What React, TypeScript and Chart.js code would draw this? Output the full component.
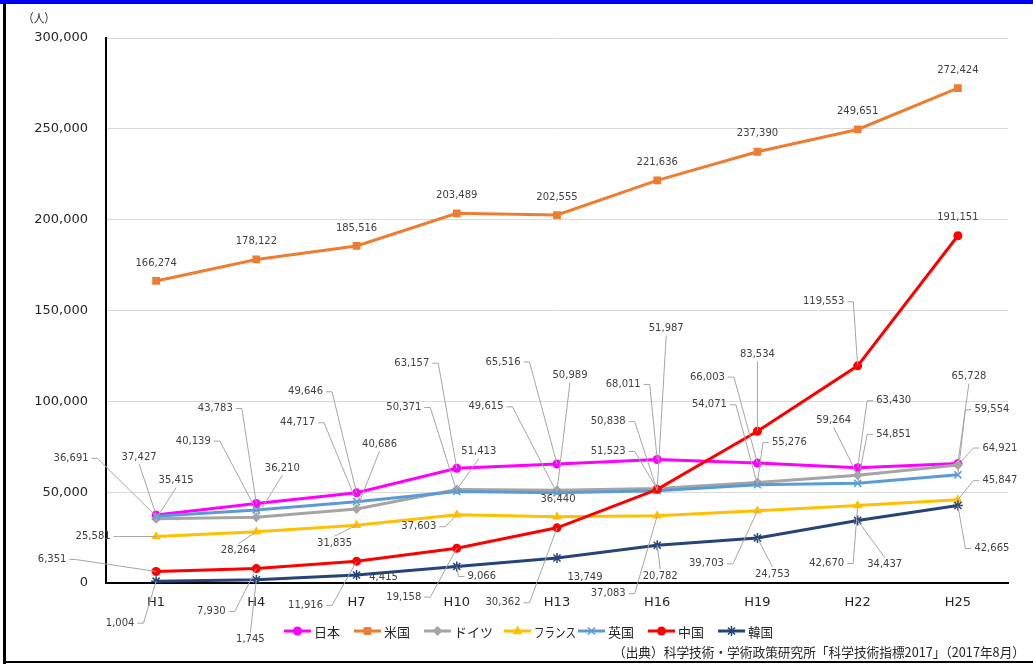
import React, { useEffect, useRef } from 'react';
import { Chart, registerables } from 'chart.js';

Chart.register(...registerables);

// ---------- data ----------
const categories = ['H1', 'H4', 'H7', 'H10', 'H13', 'H16', 'H19', 'H22', 'H25'];
const japan = [37427, 43783, 49646, 63157, 65516, 68011, 66003, 63430, 65728];
const usa = [166274, 178122, 185516, 203489, 202555, 221636, 237390, 249651, 272424];
const germany = [35415, 36210, 40686, 51413, 50989, 51987, 55276, 59264, 64921];
const france = [25581, 28264, 31835, 37603, 36440, 37083, 39703, 42670, 45847];
const uk = [36691, 40139, 44717, 50371, 49615, 50838, 54071, 54851, 59554];
const china = [6351, 7930, 11916, 19158, 30362, 51523, 83534, 119553, 191151];
const korea = [1004, 1745, 4415, 9066, 13749, 20782, 24753, 34437, 42665];
const seriesNames = ['日本', '米国', 'ドイツ', 'フランス', '英国', '中国', '韓国'];
const yMax = 300000;
const yStep = 50000;
const unitLabel = '（人）';
const sourceText = '（出典）科学技術・学術政策研究所「科学技術指標2017」（2017年8月）';

// ---------- styles ----------
const seriesColors = ['#FF00FF', '#ED7D31', '#A5A5A5', '#FFC000', '#5B9BD5', '#FF0000', '#264478'];
const seriesPointStyles = ['circle', 'rect', 'rectRot', 'triangle', 'crossRot', 'circle', 'star'];
const seriesPointRadius = [4.5, 5.5, 5, 5.5, 5, 4.5, 5];

// data-label offsets (dx, dy from the point, px) and leader mode: h = side, v = vertical, n = none
const japanLabelPos = [[-17, -58, 'v'], [-41, -95, 'h'], [-51, -101, 'h'], [-45, -105, 'h'], [-54, -102, 'h'], [-34, -75, 'h'], [-50, -86, 'h'], [36, -67, 'h'], [11, -87, 'v']];
const usaLabelPos = [[0, -18, 'n'], [0, -18, 'n'], [0, -18, 'n'], [0, -18, 'n'], [0, -18, 'n'], [0, -18, 'n'], [0, -18, 'n'], [0, -18, 'n'], [0, -18, 'n']];
const germanyLabelPos = [[20, -38, 'v'], [26, -49, 'v'], [23, -65, 'v'], [22, -38, 'v'], [13, -115, 'v'], [9, -160, 'v'], [32, -40, 'h'], [-24, -55, 'v'], [42, -17, 'h']];
const ukLabelPos = [[-85, -58, 'h'], [-63, -69, 'h'], [-59, -79, 'h'], [-53, -84, 'h'], [-71, -86, 'h'], [-49, -69, 'h'], [-48, -80, 'h'], [36, -49, 'h'], [34, -65, 'h']];
const franceLabelPos = [[-63, 0, 'h'], [-18, 19, 'v'], [-22, 18, 'v'], [-38, 12, 'h'], [1, -17, 'n'], [-49, 78, 'h'], [-51, 53, 'h'], [-31, 58, 'h'], [42, -19, 'h']];
const chinaLabelPos = [[-104, -12, 'h'], [-45, 43, 'h'], [-51, 44, 'h'], [-53, 49, 'h'], [-54, 75, 'h'], [-49, -38, 'h'], [0, -77, 'v'], [-34, -64, 'h'], [0, -18, 'n']];
const koreaLabelPos = [[-36, 42, 'h'], [-6, 60, 'v'], [27, 2, 'n'], [25, 10, 'h'], [28, 19, 'n'], [3, 31, 'v'], [15, 36, 'v'], [27, 44, 'v'], [34, 43, 'h']];

const seriesValues = [japan, usa, germany, france, uk, china, korea];
const seriesLabelPos = [japanLabelPos, usaLabelPos, germanyLabelPos, franceLabelPos, ukLabelPos, chinaLabelPos, koreaLabelPos];
const legendLineX = [284, 354, 424, 504, 578, 648, 718];
const legendEnd = 775;

const fmt = (v: number) => v.toLocaleString('en-US');

function drawMarker(ctx: CanvasRenderingContext2D, style: string, x: number, y: number, r: number, color: string) {
  ctx.save();
  ctx.fillStyle = color;
  ctx.strokeStyle = color;
  ctx.lineWidth = 1.5;
  ctx.beginPath();
  if (style === 'circle') {
    ctx.arc(x, y, r, 0, Math.PI * 2);
    ctx.fill();
  } else if (style === 'rect') {
    const s = r * Math.SQRT1_2;
    ctx.rect(x - s, y - s, 2 * s, 2 * s);
    ctx.fill();
  } else if (style === 'rectRot') {
    ctx.moveTo(x, y - r);
    ctx.lineTo(x + r, y);
    ctx.lineTo(x, y + r);
    ctx.lineTo(x - r, y);
    ctx.closePath();
    ctx.fill();
  } else if (style === 'triangle') {
    ctx.moveTo(x, y - r);
    ctx.lineTo(x + r * 0.9, y + r * 0.6);
    ctx.lineTo(x - r * 0.9, y + r * 0.6);
    ctx.closePath();
    ctx.fill();
  } else if (style === 'crossRot' || style === 'star') {
    const d = r * Math.SQRT1_2;
    ctx.moveTo(x - d, y - d);
    ctx.lineTo(x + d, y + d);
    ctx.moveTo(x - d, y + d);
    ctx.lineTo(x + d, y - d);
    if (style === 'star') {
      ctx.moveTo(x, y - r);
      ctx.lineTo(x, y + r);
    }
    ctx.stroke();
  }
  ctx.restore();
}

const framePlugin = {
  id: 'frame',
  beforeDraw(chart: any) {
    const ctx = chart.ctx as CanvasRenderingContext2D;
    ctx.save();
    ctx.fillStyle = '#ffffff';
    ctx.fillRect(0, 0, chart.width, chart.height);
    ctx.fillStyle = '#0000F0';
    ctx.fillRect(0, 0, chart.width, 4);
    ctx.fillStyle = '#000000';
    ctx.fillRect(3, 4, 3, chart.height - 4);
    ctx.fillRect(3, 661, chart.width - 3, 2);
    ctx.fillStyle = '#262626';
    ctx.font = '12px "Noto Sans CJK JP"';
    ctx.textAlign = 'center';
    ctx.textBaseline = 'middle';
    ctx.fillText(unitLabel, 39, 18, 32);
    ctx.font = '13px "Noto Sans CJK JP"';
    ctx.textAlign = 'right';
    ctx.fillText(sourceText, 1025, 652, 412);
    ctx.restore();
  },
  afterDraw(chart: any) {
    const ctx = chart.ctx as CanvasRenderingContext2D;
    ctx.save();
    const y = 631;
    seriesNames.forEach((name, i) => {
      const lx = legendLineX[i];
      ctx.strokeStyle = seriesColors[i];
      ctx.lineWidth = 3;
      ctx.beginPath();
      ctx.moveTo(lx, y);
      ctx.lineTo(lx + 27, y);
      ctx.stroke();
      drawMarker(ctx, seriesPointStyles[i], lx + 13.5, y, seriesPointRadius[i], seriesColors[i]);
      const next = i + 1 < legendLineX.length ? legendLineX[i + 1] : legendEnd;
      ctx.fillStyle = '#262626';
      ctx.font = '13px "Noto Sans CJK JP"';
      ctx.textAlign = 'left';
      ctx.textBaseline = 'middle';
      ctx.fillText(name, lx + 30, y + 1, next - (lx + 30) - 2);
    });
    ctx.restore();
  },
};

const labelPlugin = {
  id: 'pointLabels',
  afterDatasetsDraw(chart: any) {
    const ctx = chart.ctx as CanvasRenderingContext2D;
    ctx.save();
    ctx.font = '10px "DejaVu Sans"';
    ctx.textAlign = 'center';
    ctx.textBaseline = 'middle';
    // leaders
    ctx.strokeStyle = '#A6A6A6';
    ctx.lineWidth = 1;
    seriesValues.forEach((vals, di) => {
      const meta = chart.getDatasetMeta(di);
      meta.data.forEach((pt: any, i: number) => {
        const [dx, dy, mode] = seriesLabelPos[di][i] as [number, number, string];
        if (mode === 'n') return;
        const text = fmt(vals[i]);
        const w = ctx.measureText(text).width;
        const cx = pt.x + dx;
        const cy = pt.y + dy;
        ctx.beginPath();
        if (mode === 'h') {
          const sx = dx < 0 ? cx + w / 2 + 3 : cx - w / 2 - 3;
          const ex = dx < 0 ? sx + 6 : sx - 6;
          ctx.moveTo(sx, cy);
          ctx.lineTo(ex, cy);
          ctx.lineTo(pt.x, pt.y);
        } else {
          const sy = dy < 0 ? cy + 7 : cy - 7;
          ctx.moveTo(cx, sy);
          ctx.lineTo(pt.x, pt.y);
        }
        ctx.stroke();
      });
    });
    // texts
    ctx.fillStyle = '#404040';
    seriesValues.forEach((vals, di) => {
      const meta = chart.getDatasetMeta(di);
      meta.data.forEach((pt: any, i: number) => {
        const [dx, dy] = seriesLabelPos[di][i] as [number, number, string];
        ctx.fillText(fmt(vals[i]), pt.x + dx, pt.y + dy);
      });
    });
    ctx.restore();
  },
};

export default function App() {
  const ref = useRef<HTMLCanvasElement | null>(null);

  useEffect(() => {
    document.body.style.margin = '0';
    const canvas = ref.current;
    if (!canvas) return;
    const datasets = seriesNames.map((name, i) => ({
      label: name,
      data: seriesValues[i],
      borderColor: seriesColors[i],
      backgroundColor: seriesColors[i],
      borderWidth: 3,
      tension: 0,
      pointStyle: seriesPointStyles[i],
      pointRadius: seriesPointRadius[i],
      pointBorderWidth: seriesPointStyles[i] === 'crossRot' || seriesPointStyles[i] === 'star' ? 1.5 : 0,
      pointBackgroundColor: seriesColors[i],
      pointBorderColor: seriesColors[i],
      order: 6 - i,
    }));
    const chart = new Chart(canvas, {
      type: 'line',
      data: { labels: categories, datasets },
      options: {
        responsive: false,
        animation: false,
        devicePixelRatio: 1,
        layout: { padding: { top: 38, right: 25, left: 0, bottom: 0 } },
        plugins: {
          legend: { display: false },
          tooltip: { enabled: false },
          title: { display: false },
        },
        scales: {
          x: {
            type: 'category',
            offset: true,
            grid: { display: false, drawTicks: false },
            border: { display: true, color: '#000000', width: 2 },
            ticks: {
              font: { family: 'DejaVu Sans', size: 13 },
              color: '#262626',
              padding: 12,
              maxRotation: 0,
              autoSkip: false,
            },
            afterFit(scale: any) {
              scale.height = 81;
            },
          },
          y: {
            min: 0,
            max: yMax,
            grid: { color: '#D9D9D9', drawTicks: false, lineWidth: 1 },
            border: { display: true, color: '#000000', width: 2 },
            ticks: {
              stepSize: yStep,
              padding: 18,
              font: { family: 'DejaVu Sans', size: 13 },
              color: '#262626',
              callback: (v: any) => fmt(Number(v)),
            },
            afterFit(scale: any) {
              scale.width = 106;
            },
          },
        },
      },
      plugins: [framePlugin, labelPlugin],
    } as any);
    return () => chart.destroy();
  }, []);

  return (
    <div style={{ width: 1033, height: 664 }}>
      <canvas ref={ref} width={1033} height={664} style={{ display: 'block', width: 1033, height: 664 }} />
    </div>
  );
}
